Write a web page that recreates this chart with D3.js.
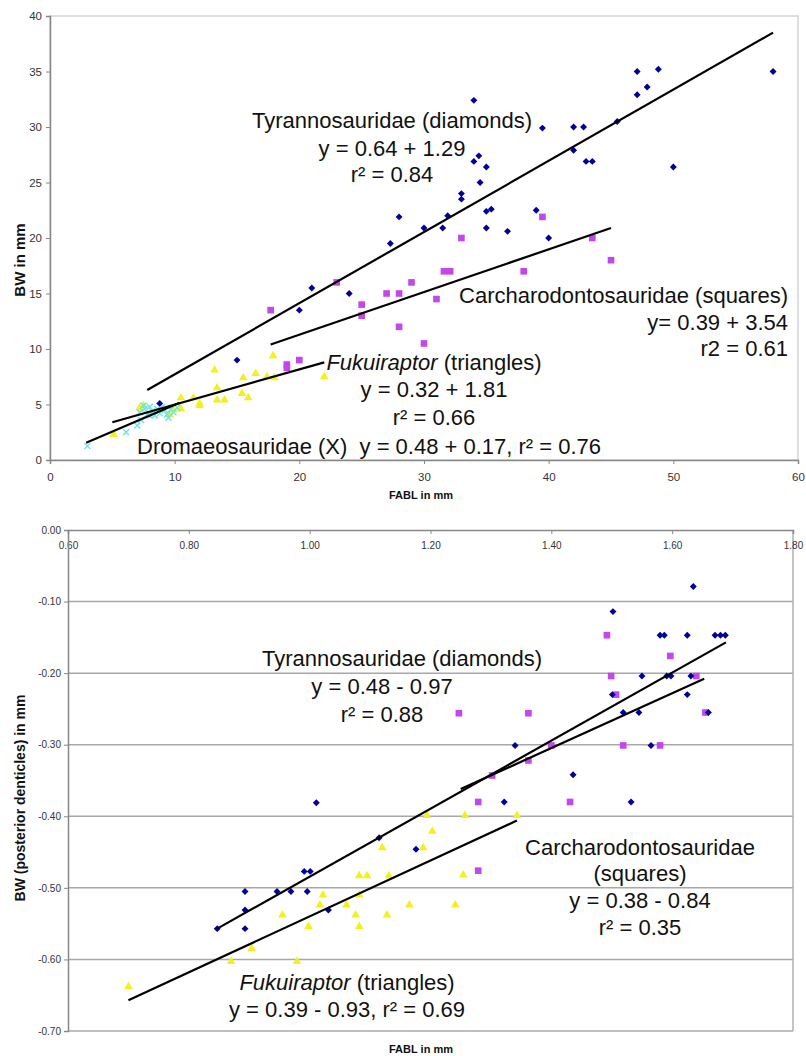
<!DOCTYPE html>
<html>
<head>
<meta charset="utf-8">
<script src="https://cdn.jsdelivr.net/npm/d3@7"></script>
<style>
	body { margin: 0; background: #fff; }
	svg { display: block; font-family: "Liberation Sans", Arial, Helvetica, sans-serif; }
</style>
</head>
<body>
<svg id="chart" width="806" height="1056"></svg>
<script>
// upper chart: FABL vs BW (mm)
var tyrTop = [[8.8,5.1],[15,9],[20,13.5],[21,15.5],[24,15],[27.3,19.5],[28,21.9],[30,20.9],[31.5,20.9],[31.9,22],
	[33,23.5],[33,24],[34,26.9],[34.4,27.4],[34.5,25],[35,26.4],[34,32.4],[35,22.4],[35.4,22.6],[35,20.9],
	[36.7,20.6],[39,22.5],[40,20],[39.5,29.9],[42,30],[42.8,30],[42,27.9],[43,26.9],[43.5,26.9],[45.5,30.5],
	[47.1,32.9],[47.1,35],[47.9,33.6],[48.8,35.2],[50,26.4],[58,35]]
var carTop = [[17.7,13.5],[19,8.6],[19,8.3],[20,9],[23,16],[25,14],[25,13],[27,15],[28,15],[28,12],
	[29,16],[30,10.5],[31,14.5],[31.6,17],[32.1,17],[33,20],[38,17],[39.5,21.9],[43.5,20],[45,18]]
var fukTop = [[5.1,2.3],[7.2,4.7],[7.5,4.9],[9.6,4.1],[9.9,4.5],[10.5,5.6],[10.5,4.6],[11.5,5.6],[12,5.1],[12,4.9],
	[13.2,8.1],[13.4,6.5],[13.4,5.4],[14,5.4],[15.4,6],[15.5,7.4],[15.9,5.6],[16.5,7.8],[17.4,7.5],[17.9,9.4],
	[18,7.4],[22,7.5]]
var droTop = [[3,1.25],[6.1,2.5],[7,3.1],[7.3,3.6],[7.2,4.3],[7.6,4.6],[7.8,4.1],[8,4.8],[8.2,4.4],[8.4,4],
	[8.6,4.6],[8.8,4.2],[9,4.8],[9.2,4.5],[9.4,4.1],[9.5,3.8],[9.7,4.6],[8,4],[7.5,4.9],[9.9,4.3],[10.2,4.7]]
// trend line end points, as drawn
var tyrTopLine = [[7.8,6.3],[58,38.5]]
var carTopLine = [[17.7,10.4],[45,20.9]]
var fukTopLine = [[5,3.4],[22,8.8]]
var droTopLine = [[2.9,1.56],[10.4,5.16]]
var topXTicks = [0,10,20,30,40,50,60]
var topYTicks = [0,5,10,15,20,25,30,35,40]

// lower chart: log values, posterior denticles
var tyrBot = [[0.847,-0.557],[0.893,-0.557],[0.893,-0.531],[0.893,-0.505],[0.946,-0.505],[0.969,-0.505],[0.996,-0.505],
	[0.991,-0.477],[1.001,-0.477],[1.011,-0.381],[1.031,-0.531],[1.115,-0.43],[1.176,-0.446],[1.322,-0.38],
	[1.34,-0.301],[1.436,-0.342],[1.532,-0.38],[1.501,-0.23],[1.502,-0.114],[1.519,-0.255],[1.545,-0.255],
	[1.55,-0.204],[1.565,-0.301],[1.58,-0.147],[1.587,-0.147],[1.591,-0.204],[1.598,-0.204],[1.625,-0.147],
	[1.625,-0.23],[1.631,-0.204],[1.635,-0.079],[1.66,-0.255],[1.671,-0.147],[1.68,-0.147],[1.688,-0.147]]
var carBot = [[1.247,-0.256],[1.362,-0.256],[1.302,-0.343],[1.362,-0.322],[1.4,-0.301],[1.279,-0.38],[1.431,-0.38],
	[1.279,-0.476],[1.492,-0.147],[1.499,-0.204],[1.507,-0.23],[1.519,-0.301],[1.58,-0.301],[1.597,-0.176],
	[1.64,-0.204],[1.655,-0.255]]
var fukBot = [[0.7,-0.638],[0.87,-0.603],[0.979,-0.603],[0.904,-0.585],[0.955,-0.538],[0.998,-0.554],[1.017,-0.524],
	[1.022,-0.51],[1.061,-0.524],[1.076,-0.538],[1.082,-0.554],[1.082,-0.51],[1.082,-0.483],[1.095,-0.483],
	[1.131,-0.483],[1.128,-0.538],[1.12,-0.444],[1.165,-0.524],[1.188,-0.444],[1.194,-0.399],[1.203,-0.421],
	[1.241,-0.524],[1.254,-0.482],[1.257,-0.399],[1.343,-0.399]]
var tyrBotLine = [[0.847,-0.557],[1.689,-0.157]]
var carBotLine = [[1.25,-0.362],[1.653,-0.208]]
var fukBotLine = [[0.7,-0.657],[1.343,-0.406]]
var botXTicks = [0.6,0.8,1.0,1.2,1.4,1.6,1.8]
var botYTicks = [0,-0.1,-0.2,-0.3,-0.4,-0.5,-0.6,-0.7]

var colTyr = '#00009c'
var colCar = '#c247ec'
var colFuk = '#f2f21a'
var colDro = '#6fe3e0'

var svg = d3.select('#chart')

var topX = d3.scaleLinear().domain([0,60]).range([50,798])
var topY = d3.scaleLinear().domain([0,40]).range([460,16])
var botX = d3.scaleLinear().domain([0.6,1.8]).range([68,793])
var botY = d3.scaleLinear().domain([-0.7,0]).range([1031,530])

function styleAxis(g, size) {
	g.select('.domain').attr('stroke', '#888').attr('stroke-width', 1.5)
	g.selectAll('.tick line').attr('stroke', '#888')
	g.selectAll('.tick text').attr('fill', '#333').style('font-size', size + 'px')
		.style('font-family', '"Liberation Sans", Arial, sans-serif')
}

function drawPoints(g, pts, xs, ys, kind, color) {
	var sym
	if (kind == 'diamond') sym = d3.symbol(d3.symbolSquare, 24)
	if (kind == 'square') sym = d3.symbol(d3.symbolSquare, 44)
	if (kind == 'triangle') sym = d3.symbol(d3.symbolTriangle, 32)
	var sel = g.selectAll(null).data(pts).enter()
	if (kind == 'x') {
		sel.append('path')
			.attr('d', 'M-3,-3L3,3M-3,3L3,-3')
			.attr('transform', d => 'translate(' + xs(d[0]) + ',' + ys(d[1]) + ')')
			.attr('stroke', color).attr('stroke-width', 1.4).attr('fill', 'none')
		return
	}
	sel.append('path')
		.attr('d', sym)
		.attr('transform', d => 'translate(' + xs(d[0]) + ',' + ys(d[1]) + ')' + (kind == 'diamond' ? ' rotate(45)' : ''))
		.attr('fill', color)
}

function drawLine(g, pts, xs, ys) {
	g.append('path')
		.datum(pts)
		.attr('d', d3.line().x(d => xs(d[0])).y(d => ys(d[1])))
		.attr('stroke', '#000').attr('stroke-width', 2.2).attr('fill', 'none')
}

// lines of annotation text: [x, baseline, anchor, text, italic prefix]
function label(x, y, anchor, txt, ital) {
	var t = svg.append('text')
		.attr('x', x).attr('y', y)
		.attr('text-anchor', anchor)
		.style('font-size', '22px')
		.style('white-space', 'pre')
		.attr('fill', '#111')
	if (ital) t.append('tspan').style('font-style', 'italic').text(ital)
	t.append('tspan').text(txt)
}

// ---------- upper chart
var gTop = svg.append('g')
gTop.append('rect')
	.attr('x', topX(0)).attr('y', topY(40))
	.attr('width', topX(60) - topX(0)).attr('height', topY(0) - topY(40))
	.attr('fill', 'none').attr('stroke', '#c8c8c8').attr('stroke-width', 1.2)

gTop.append('g').attr('transform', 'translate(0,' + topY(0) + ')')
	.call(d3.axisBottom(topX).tickValues(topXTicks).tickSize(4).tickPadding(9).tickFormat(d3.format('d')))
	.call(styleAxis, 11.5)
gTop.append('g').attr('transform', 'translate(' + topX(0) + ',0)')
	.call(d3.axisLeft(topY).tickValues(topYTicks).tickSize(4).tickPadding(4).tickFormat(d3.format('d')))
	.call(styleAxis, 11.5)

drawPoints(gTop, carTop, topX, topY, 'square', colCar)
drawPoints(gTop, fukTop, topX, topY, 'triangle', colFuk)
drawPoints(gTop, droTop, topX, topY, 'x', colDro)
drawPoints(gTop, tyrTop, topX, topY, 'diamond', colTyr)
drawLine(gTop, tyrTopLine, topX, topY)
drawLine(gTop, carTopLine, topX, topY)
drawLine(gTop, fukTopLine, topX, topY)
drawLine(gTop, droTopLine, topX, topY)

label(392, 128, 'middle', 'Tyrannosauridae (diamonds)')
label(392, 156, 'middle', 'y = 0.64 + 1.29')
label(392, 182, 'middle', 'r\u00b2 = 0.84')
label(788, 303, 'end', 'Carcharodontosauridae (squares)')
label(788, 330, 'end', 'y= 0.39 + 3.54')
label(788, 356, 'end', 'r2 = 0.61')
label(434, 370, 'middle', ' (triangles)', 'Fukuiraptor')
label(434, 397, 'middle', 'y = 0.32 + 1.81')
label(434, 425, 'middle', 'r\u00b2 = 0.66')
label(137, 454, 'start', 'Dromaeosauridae (X)  y = 0.48 + 0.17, r\u00b2 = 0.76')

svg.append('text').attr('x', 421).attr('y', 499).attr('text-anchor', 'middle')
	.style('font-size', '11px').style('font-weight', 'bold').attr('fill', '#111').text('FABL in mm')
svg.append('text').attr('transform', 'translate(25,260) rotate(-90)').attr('text-anchor', 'middle')
	.style('font-size', '15px').style('font-weight', 'bold').attr('fill', '#111').text('BW in mm')

// ---------- lower chart
var gBot = svg.append('g')
gBot.selectAll(null).data(botYTicks.slice(1)).enter().append('line')
	.attr('x1', botX(0.6)).attr('x2', botX(1.8))
	.attr('y1', d => botY(d)).attr('y2', d => botY(d))
	.attr('stroke', '#a8a8a8').attr('stroke-width', 1.5)
gBot.append('line')
	.attr('x1', botX(1.8)).attr('x2', botX(1.8)).attr('y1', botY(0)).attr('y2', botY(-0.7))
	.attr('stroke', '#b0b0b0').attr('stroke-width', 1.5)

gBot.append('g').attr('transform', 'translate(0,' + botY(0) + ')')
	.call(d3.axisBottom(botX).tickValues(botXTicks).tickSize(4).tickPadding(8).tickFormat(d3.format('.2f')))
	.call(styleAxis, 10)
gBot.append('g').attr('transform', 'translate(' + botX(0.6) + ',0)')
	.call(d3.axisLeft(botY).tickValues(botYTicks).tickSize(4).tickPadding(3).tickFormat(d => d3.format('.2f')(d).replace('\u2212', '-')))
	.call(styleAxis, 10)

drawPoints(gBot, fukBot, botX, botY, 'triangle', colFuk)
drawPoints(gBot, carBot, botX, botY, 'square', colCar)
drawPoints(gBot, tyrBot, botX, botY, 'diamond', colTyr)
drawLine(gBot, tyrBotLine, botX, botY)
drawLine(gBot, carBotLine, botX, botY)
drawLine(gBot, fukBotLine, botX, botY)

label(262, 666, 'start', 'Tyrannosauridae (diamonds)')
label(382, 694, 'middle', 'y = 0.48 - 0.97')
label(382, 722, 'middle', 'r\u00b2 = 0.88')
label(640, 855, 'middle', 'Carcharodontosauridae')
label(640, 881, 'middle', '(squares)')
label(640, 908, 'middle', 'y = 0.38 - 0.84')
label(640, 935, 'middle', 'r\u00b2 = 0.35')
label(347, 990, 'middle', ' (triangles)', 'Fukuiraptor')
label(347, 1017, 'middle', 'y = 0.39 - 0.93, r\u00b2 = 0.69')

svg.append('text').attr('x', 421).attr('y', 1053).attr('text-anchor', 'middle')
	.style('font-size', '11px').style('font-weight', 'bold').attr('fill', '#111').text('FABL in mm')
svg.append('text').attr('transform', 'translate(25,798) rotate(-90)').attr('text-anchor', 'middle')
	.style('font-size', '14px').style('font-weight', 'bold').attr('fill', '#111').text('BW (posterior denticles) in mm')
</script>
</body>
</html>
